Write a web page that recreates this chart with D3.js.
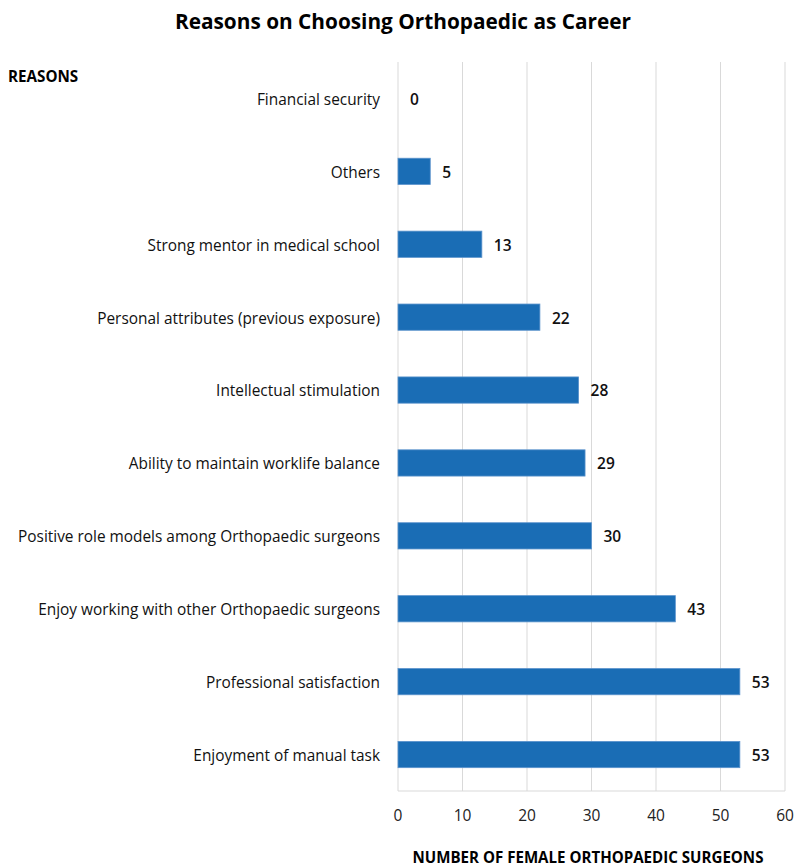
<!DOCTYPE html>
<html>
<head>
<meta charset="utf-8">
<script src="https://cdn.jsdelivr.net/npm/d3@7"></script>
<style>
  body { margin: 0; background: #fff; }
  text { font-family: "Open Sans", "Noto Sans", sans-serif; }
</style>
</head>
<body>
<svg id="chart" width="797" height="866"></svg>
<script>
const categories = [
  "Financial security",
  "Others",
  "Strong mentor in medical school",
  "Personal attributes (previous exposure)",
  "Intellectual stimulation",
  "Ability to maintain worklife balance",
  "Positive role models among Orthopaedic surgeons",
  "Enjoy working with other Orthopaedic surgeons",
  "Professional satisfaction",
  "Enjoyment of manual task"
];
const values = [0, 5, 13, 22, 28, 29, 30, 43, 53, 53];
const xTicks = [0, 10, 20, 30, 40, 50, 60];

const title = "Reasons on Choosing Orthopaedic as Career";
const yTitle = "REASONS";
const xTitle = "NUMBER OF FEMALE ORTHOPAEDIC SURGEONS";

const svg = d3.select("#chart");
const mLeft = 398, mRight = 785, mTop = 62, mBottom = 791;

const x = d3.scaleLinear().domain([0, 60]).range([mLeft, mRight]);
const y = d3.scaleBand().domain(categories).range([mTop, mBottom]).paddingInner(0.64).paddingOuter(0.32);

// gridlines
svg.append("g").selectAll("line").data(xTicks).join("line")
  .attr("x1", d => x(d)).attr("x2", d => x(d))
  .attr("y1", mTop).attr("y2", mBottom)
  .attr("stroke", "#d9d9d9").attr("stroke-width", 1);

// bottom axis line
svg.append("line").attr("x1", mLeft).attr("x2", mRight).attr("y1", mBottom).attr("y2", mBottom)
  .attr("stroke", "#d9d9d9").attr("stroke-width", 1);

// bars
svg.append("g").selectAll("rect").data(values).join("rect")
  .attr("x", x(0))
  .attr("y", (d, i) => y(categories[i]))
  .attr("width", d => x(d) - x(0))
  .attr("height", y.bandwidth())
  .attr("fill", "#1a6db5")
  .attr("stroke", d => d > 0 ? "#5b93cc" : "none")
  .attr("stroke-width", 0.8);

// value labels
svg.append("g").selectAll("text").data(values).join("text")
  .attr("x", d => x(d) + 12)
  .attr("y", (d, i) => y(categories[i]) + y.bandwidth() / 2 + 1)
  .attr("dy", "0.35em")
  .attr("font-size", 15.5)
  .attr("font-weight", 600)
  .attr("fill", "#111")
  .text(d => d);

// category labels
svg.append("g").selectAll("text").data(categories).join("text")
  .attr("x", mLeft - 18)
  .attr("y", d => y(d) + y.bandwidth() / 2 + 1)
  .attr("dy", "0.35em")
  .attr("text-anchor", "end")
  .attr("font-size", 15.4)
  .attr("fill", "#111")
  .text(d => d);

// x tick labels
svg.append("g").selectAll("text").data(xTicks).join("text")
  .attr("x", d => x(d))
  .attr("y", 816)
  .attr("dy", "0.35em")
  .attr("text-anchor", "middle")
  .attr("font-size", 15.5)
  .attr("fill", "#222")
  .text(d => d);

// titles
svg.append("text").attr("x", 403).attr("y", 22).attr("dy", "0.35em")
  .attr("text-anchor", "middle").attr("font-size", 20.8).attr("font-weight", "bold")
  .attr("fill", "#000").text(title);

svg.append("text").attr("x", 8).attr("y", 77).attr("dy", "0.35em")
  .attr("font-size", 15.2).attr("font-weight", "bold").attr("fill", "#000").text(yTitle);

svg.append("text").attr("x", 588).attr("y", 858).attr("dy", "0.35em")
  .attr("text-anchor", "middle").attr("font-size", 15.1).attr("font-weight", "bold")
  .attr("fill", "#000").text(xTitle);
</script>
</body>
</html>
